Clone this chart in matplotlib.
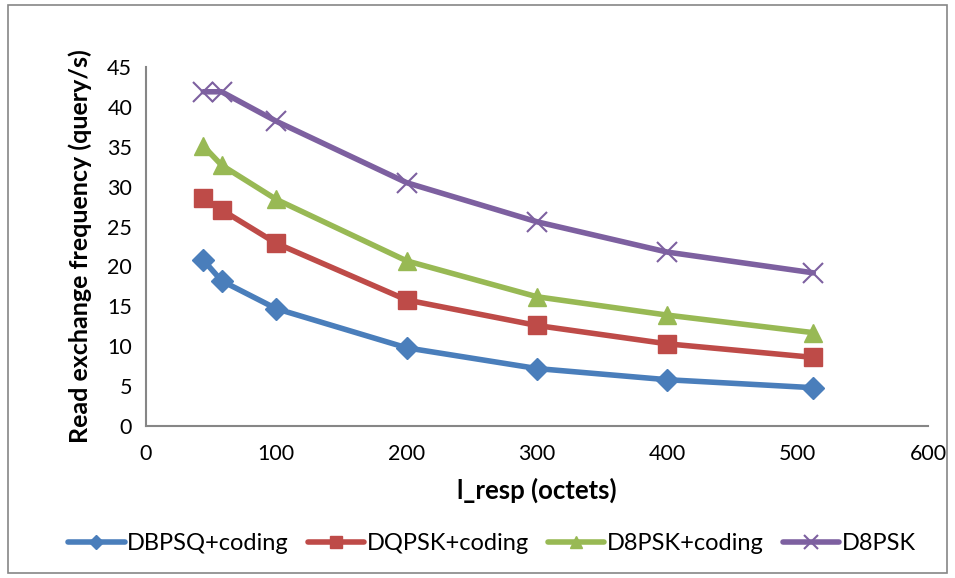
import matplotlib
matplotlib.use("Agg")
import matplotlib.pyplot as plt
from matplotlib.patches import Rectangle

plt.rcParams['font.family'] = ['Lato', 'DejaVu Sans']

x = [44, 58, 100, 200, 300, 400, 512]
dbpsk = [20.8, 18.2, 14.7, 9.8, 7.2, 5.8, 4.8]
dqpsk = [28.6, 27.1, 22.9, 15.8, 12.6, 10.3, 8.6]
d8psk_c = [35.1, 32.7, 28.4, 20.7, 16.2, 13.9, 11.7]
d8psk = [41.9, 41.9, 38.2, 30.5, 25.6, 21.8, 19.2]

labels = ["DBPSQ+coding", "DQPSK+coding", "D8PSK+coding", "D8PSK"]
colors = ["#4A7EBB", "#BE4B48", "#98B954", "#7D60A0"]
markers = ["D", "s", "^", "x"]
msizes = [11, 13, 13, 15]

fig = plt.figure(figsize=(9.55, 5.78), dpi=100)
ax = fig.add_axes([0.1529, 0.263, 0.8188, 0.621])

for ys, lab, c, m, ms in zip([dbpsk, dqpsk, d8psk_c, d8psk], labels, colors, markers, msizes):
    ax.plot(x, ys, color=c, lw=4, marker=m, ms=ms, mew=1.5 if m == "x" else 1.0,
            label=lab, solid_capstyle='round')

ax.set_xlim(0, 600)
ax.set_ylim(0, 45)
ax.set_xticks(range(0, 601, 100))
ax.set_yticks(range(0, 46, 5))
for s in ['top', 'right']:
    ax.spines[s].set_visible(False)
for s in ['left', 'bottom']:
    ax.spines[s].set_color('#868686')
    ax.spines[s].set_linewidth(1.5)
ax.tick_params(length=0, labelsize=15.5, pad=10)
ax.tick_params(axis='x', pad=13)
ax.set_xlabel("l_resp (octets)", fontsize=18.5, fontweight='bold', labelpad=10)
ax.set_ylabel("Read exchange frequency (query/s)", fontsize=18, fontweight='bold', labelpad=11)

handles, labs = ax.get_legend_handles_labels()
leg = fig.legend(handles, labs, loc='center', bbox_to_anchor=(0.515, 0.06), ncol=4, frameon=False,
                 fontsize=17, handlelength=2.4, columnspacing=0.8, handletextpad=0.1,
                 markerscale=0.65)

fig.patches.append(Rectangle((0.008, 0.008), 0.984, 0.984, transform=fig.transFigure,
                             fill=False, edgecolor='#868686', lw=1.2))

fig.savefig("out.png", dpi=100)
